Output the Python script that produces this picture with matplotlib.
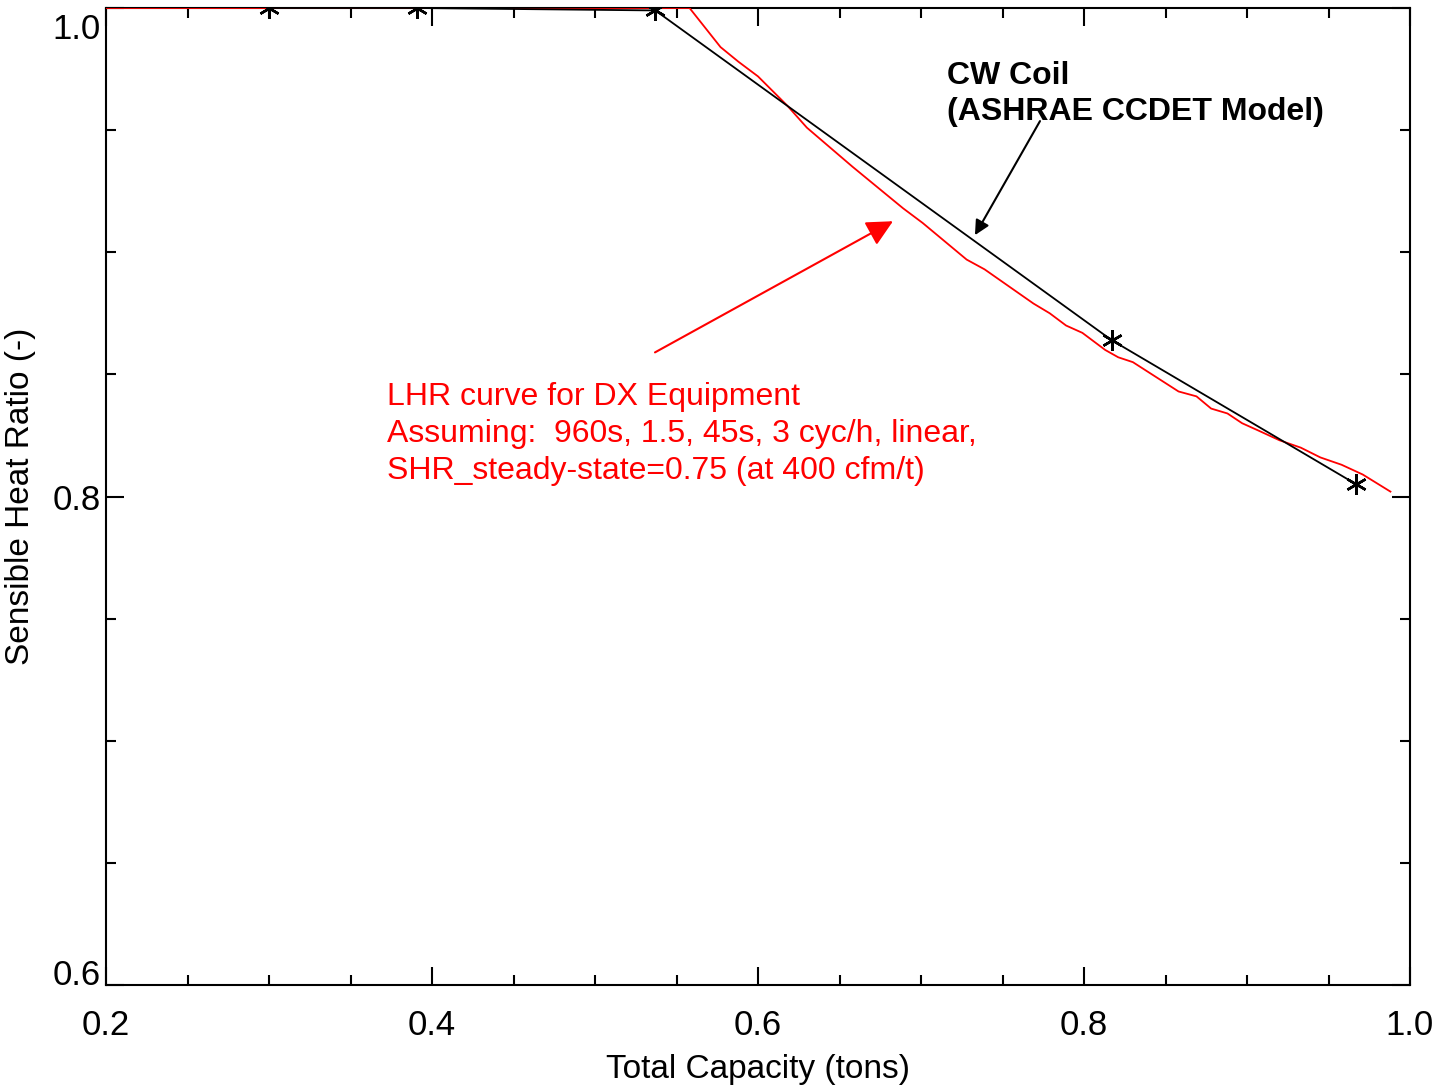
import matplotlib
matplotlib.use('Agg')
import matplotlib.pyplot as plt
import matplotlib.transforms as mtransforms
from matplotlib.ticker import MultipleLocator

plt.rcParams['font.family'] = ['Liberation Sans', 'DejaVu Sans']

# CW coil (ASHRAE CCDET model) points
cw_x = [0.300, 0.391, 0.537, 0.817, 0.967]
cw_y = [1.000, 1.000, 0.999, 0.864, 0.805]

# LHR curve for DX equipment
lhr_x = [0.200, 0.558, 0.577, 0.588, 0.600, 0.618, 0.630, 0.658, 0.689, 0.701,
         0.728, 0.739, 0.769, 0.779, 0.789, 0.799, 0.813, 0.821, 0.830, 0.858,
         0.869, 0.878, 0.888, 0.897, 0.907, 0.920, 0.933, 0.945, 0.958, 0.971, 0.988]
lhr_y = [1.000, 1.000, 0.984, 0.978, 0.972, 0.960, 0.951, 0.935, 0.918, 0.912,
         0.897, 0.893, 0.879, 0.875, 0.870, 0.867, 0.860, 0.857, 0.855, 0.843,
         0.841, 0.836, 0.834, 0.830, 0.827, 0.823, 0.820, 0.816, 0.813, 0.809, 0.802]

x_ticks = [0.2, 0.4, 0.6, 0.8, 1.0]
y_ticks = [0.6, 0.8, 1.0]

fig = plt.figure(figsize=(14.34, 10.90), dpi=100)
ax = fig.add_axes([106/1434, 1-985/1090, 1304/1434, 977/1090])

ax.plot(lhr_x, lhr_y, color='#ff0000', lw=1.3, zorder=3)
ax.plot(cw_x, cw_y, color='black', lw=1.3, marker=(6, 2, 0), ms=15, mew=1.8, zorder=4)

ax.set_xlim(0.2, 1.0)
ax.set_ylim(0.6, 1.0)
ax.set_xticks(x_ticks, labels=['%.1f' % v for v in x_ticks])
ax.set_yticks(y_ticks, labels=['%.1f' % v for v in y_ticks])
ax.xaxis.set_minor_locator(MultipleLocator(0.05))
ax.yaxis.set_minor_locator(MultipleLocator(0.05))
ax.tick_params(which='both', direction='in', top=True, right=True, width=1.5)
ax.tick_params(which='major', length=13)
ax.tick_params(which='minor', length=7)
ax.tick_params(axis='x', labelsize=25, pad=17)
ax.tick_params(axis='y', labelsize=25, pad=4)
for sp in ax.spines.values():
    sp.set_linewidth(1.5)

yt = ax.yaxis.get_major_ticks()
yt[0].label1.set_va('baseline')
yt[2].label1.set_va('top')
yt[2].label1.set_transform(yt[2].label1.get_transform() +
                           mtransforms.ScaledTranslation(0, -5/100, fig.dpi_scale_trans))

ax.set_xlabel('Total Capacity (tons)', fontsize=24, labelpad=9)
ax.set_ylabel('Sensible Heat Ratio (-)', fontsize=24, labelpad=12)

ax.text(0.3724, 0.8468, 'LHR curve for DX Equipment\n'
        'Assuming:  960s, 1.5, 45s, 3 cyc/h, linear,\n'
        'SHR_steady-state=0.75 (at 400 cfm/t)',
        color='#ff0000', fontsize=23, va='top', ha='left', linespacing=1.3)
ax.annotate('', xy=(0.6828, 0.9127), xytext=(0.5368, 0.859),
            arrowprops=dict(arrowstyle='-|>,head_length=0.4,head_width=0.2',
                            mutation_scale=40, color='#ff0000', lw=1.5,
                            shrinkA=0, shrinkB=0))

ax.text(0.716, 0.9785, 'CW Coil\n(ASHRAE CCDET Model)', color='black',
        fontsize=23, fontweight='bold', va='top', ha='left', linespacing=1.3)
ax.annotate('', xy=(0.7331, 0.907), xytext=(0.773, 0.9537),
            arrowprops=dict(arrowstyle='-|>,head_length=0.4,head_width=0.2',
                            mutation_scale=22, color='black', lw=1.5,
                            shrinkA=0, shrinkB=0))

fig.savefig('out.png', dpi=100)
